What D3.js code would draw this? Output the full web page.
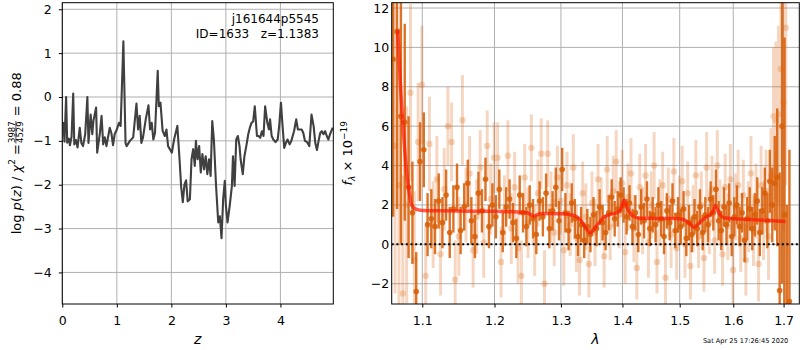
<!DOCTYPE html>
<html><head><meta charset="utf-8">
<script src="https://cdn.jsdelivr.net/npm/d3@7"></script>
<style>
body{margin:0;background:#fff;}
svg{font-family:"DejaVu Sans",sans-serif;}
</style></head><body>
<svg id="fig" width="800" height="350"></svg>
<script>
// ---- redshift probability: log p(z) on the fitting grid ----
const zGrid = [0.00,0.02,0.04,0.07,0.09,0.12,0.14,0.17,0.20,0.22,0.25,0.28,0.32,0.35,0.38,0.42,0.46,0.48,0.52,0.55,
  0.57,0.62,0.64,0.69,0.72,0.75,0.78,0.81,0.87,0.90,0.93,0.96,1.00,1.04,1.07,1.12,1.16,1.18,1.24,1.30,
  1.36,1.39,1.42,1.45,1.48,1.53,1.58,1.61,1.64,1.67,1.70,1.75,1.77,1.80,1.84,1.88,1.91,1.94,2.01,2.05,
  2.11,2.15,2.18,2.21,2.24,2.27,2.30,2.34,2.37,2.40,2.43,2.45,2.48,2.51,2.54,2.57,2.60,2.63,2.66,2.69,
  2.72,2.75,2.78,2.82,2.86,2.89,2.92,2.95,2.98,3.00,3.03,3.07,3.11,3.13,3.16,3.19,3.22,3.25,3.27,3.31,
  3.34,3.38,3.41,3.44,3.47,3.50,3.53,3.57,3.60,3.63,3.66,3.69,3.72,3.76,3.79,3.81,3.84,3.87,3.91,3.95,
  3.98,4.01,4.04,4.07,4.10,4.13,4.17,4.20,4.25,4.29,4.32,4.36,4.39,4.42,4.45,4.49,4.53,4.57,4.61,4.64,
  4.67,4.70,4.73,4.76,4.79,4.82,4.85,4.88,4.91,4.96];
const logPz = [-0.60,-0.59,-1.02,0.00,-1.04,-0.95,-1.10,-0.90,0.08,-1.08,-0.98,-1.15,-0.70,-1.05,-1.12,-0.85,0.00,-1.05,-0.40,-0.85,
  -0.55,-0.24,-1.27,-0.82,-0.43,-1.08,-0.92,-1.12,-0.70,-0.82,-1.10,-0.85,-0.74,-0.59,-0.66,1.27,-1.05,-1.12,-1.00,-0.92,
  -0.15,-0.74,-0.43,-1.05,-0.92,-0.51,-0.19,-0.74,-0.59,-0.97,-0.82,0.60,-0.21,-0.13,-0.77,-0.89,-0.74,-1.12,-1.27,-0.97,
  -0.66,-1.42,-2.05,-2.40,-2.00,-1.90,-2.38,-2.33,-1.42,-1.19,-1.57,-1.00,-1.42,-1.12,-1.72,-1.30,-1.65,-1.35,-1.76,-1.42,
  -1.80,-0.55,-0.97,-2.03,-2.86,-2.72,-3.22,-2.33,-1.91,-2.48,-2.86,-2.48,-2.03,-1.35,-2.03,-0.97,-0.89,-1.12,-1.42,-1.76,
  -1.35,-1.08,-0.85,-0.70,-0.59,-0.56,-0.21,-0.89,-0.89,-0.93,-0.78,-0.89,-0.21,-0.59,-0.74,-0.51,-0.89,-0.97,-1.03,-0.97,
  -0.63,-0.13,-0.67,-1.16,-1.05,-0.97,-1.08,-1.00,-0.78,-0.51,-0.74,-0.74,-0.74,-0.82,-1.00,-1.03,-1.12,-0.40,-0.67,-1.05,
  -1.21,-1.00,-0.82,-0.78,-0.85,-0.78,-0.89,-0.97,-0.85,-0.70];

const chi2Num = "3987", chi2Den = "4529", chi2Red = "0.88";
const objName = "j161644p5545";
const objLine = "ID=1633   z=1.1383";
const stamp = "Sat Apr 25 17:26:45 2020";

const zTicks = [0, 1, 2, 3, 4];
const pzTicks = [-4, -3, -2, -1, 0, 1, 2];
const lamTicks = [1.1, 1.2, 1.3, 1.4, 1.5, 1.6, 1.7];
const fluxTicks = [-2, 0, 2, 4, 6, 8, 10, 12];

// ---- grism spectrum, first beam (strong points) ----
const lamA = [1.062,1.067,1.072,1.077,1.082,1.087,1.092,1.097,1.102,1.107,1.112,1.117,1.122,1.127,1.132,1.137,1.142,1.147,1.152,1.157,
  1.162,1.167,1.172,1.177,1.182,1.187,1.192,1.197,1.202,1.207,1.212,1.217,1.222,1.227,1.232,1.237,1.242,1.247,1.252,1.257,
  1.262,1.267,1.272,1.277,1.282,1.287,1.292,1.297,1.302,1.307,1.312,1.317,1.322,1.327,1.332,1.337,1.342,1.347,1.352,1.357,
  1.362,1.367,1.372,1.377,1.382,1.387,1.392,1.397,1.402,1.407,1.412,1.417,1.422,1.427,1.432,1.437,1.442,1.447,1.452,1.457,
  1.462,1.467,1.472,1.477,1.482,1.487,1.492,1.497,1.502,1.507,1.512,1.517,1.522,1.527,1.532,1.537,1.542,1.547,1.552,1.557,
  1.562,1.567,1.572,1.577,1.582,1.587,1.592,1.597,1.602,1.607,1.612,1.617,1.622,1.627,1.632,1.637,1.642,1.647,1.652,1.657,
  1.662,1.667,1.672,1.677,1.682,1.687,1.692,1.697,1.702,1.707,1.712];
const fluxA = [9.4,10.8,6.5,6.2,2.9,1.6,-2.4,4.2,4.8,1.0,1.3,0.9,2.2,1.1,2.5,0.6,1.8,2.9,0.7,1.9,
  3.1,1.2,0.4,2.6,1.7,3.3,0.9,2.0,1.4,2.8,0.6,1.9,2.3,1.1,0.3,2.5,1.6,0.9,2.0,1.3,
  0.5,2.2,1.4,2.6,0.8,1.7,2.9,1.2,3.8,1.6,0.7,2.1,1.3,0.4,1.0,0.2,0.9,0.5,1.5,0.8,
  1.9,1.1,0.6,1.6,2.4,1.3,1.8,2.5,2.0,1.4,2.1,0.9,1.6,0.5,1.9,1.2,2.3,0.8,1.5,1.0,
  2.0,1.3,0.4,1.7,1.1,2.2,0.7,1.5,0.9,1.8,0.3,1.1,0.5,1.4,0.8,1.9,0.6,1.5,1.0,2.3,
  1.6,2.8,1.2,0.7,1.9,1.0,2.1,0.4,1.4,2.0,0.9,1.6,0.2,1.3,1.8,0.8,1.5,2.2,0.6,1.7,
  2.6,1.2,3.2,2.0,3.1,3.4,-2.35,6.0,1.5,-3.5,-2.9];
const errA = [8.0,9.0,6.5,5.0,3.6,2.6,2.0,2.0,1.9,1.6,1.5,1.4,1.4,1.3,1.3,1.3,1.2,1.2,1.2,1.2,
  1.2,1.2,1.1,1.1,1.1,1.1,1.1,1.1,1.1,1.0,1.0,1.0,1.0,1.0,1.0,1.0,1.0,1.0,1.0,1.0,
  1.0,1.0,1.0,1.0,1.0,1.0,1.0,1.0,1.1,1.0,1.0,1.0,1.0,1.0,0.9,0.9,0.9,0.9,0.9,0.9,
  0.9,0.9,0.9,0.9,0.9,0.9,0.9,0.9,0.9,0.9,0.9,0.9,0.9,0.9,0.9,0.9,0.9,0.9,0.9,0.9,
  0.9,0.9,0.9,0.9,0.9,0.9,0.9,0.9,0.9,0.9,0.9,0.9,0.9,0.9,0.9,0.9,0.9,0.9,0.9,0.9,
  0.9,1.0,1.0,1.0,1.0,1.0,1.0,1.0,1.0,1.0,1.0,1.0,1.1,1.1,1.1,1.1,1.1,1.2,1.2,1.2,
  1.3,1.4,1.6,1.9,2.4,3.5,6.0,8.0,9.0,5.5,7.7];

// ---- second beam (faint points) ----
const lamB = [1.0645,1.0695,1.0745,1.0795,1.0845,1.0895,1.0945,1.0995,1.1045,1.1095,1.1145,1.1195,1.1245,1.1295,1.1345,1.1395,1.1445,1.1495,1.1545,1.1595,
  1.1645,1.1695,1.1745,1.1795,1.1845,1.1895,1.1945,1.1995,1.2045,1.2095,1.2145,1.2195,1.2245,1.2295,1.2345,1.2395,1.2445,1.2495,1.2545,1.2595,
  1.2645,1.2695,1.2745,1.2795,1.2845,1.2895,1.2945,1.2995,1.3045,1.3095,1.3145,1.3195,1.3245,1.3295,1.3345,1.3395,1.3445,1.3495,1.3545,1.3595,
  1.3645,1.3695,1.3745,1.3795,1.3845,1.3895,1.3945,1.3995,1.4045,1.4095,1.4145,1.4195,1.4245,1.4295,1.4345,1.4395,1.4445,1.4495,1.4545,1.4595,
  1.4645,1.4695,1.4745,1.4795,1.4845,1.4895,1.4945,1.4995,1.5045,1.5095,1.5145,1.5195,1.5245,1.5295,1.5345,1.5395,1.5445,1.5495,1.5545,1.5595,
  1.5645,1.5695,1.5745,1.5795,1.5845,1.5895,1.5945,1.5995,1.6045,1.6095,1.6145,1.6195,1.6245,1.6295,1.6345,1.6395,1.6445,1.6495,1.6545,1.6595,
  1.6645,1.6695,1.6745,1.6795,1.6845,1.6895,1.6945,1.6995,1.7045];
const fluxB = [5.0,3.0,-2.5,2.0,7.7,-0.8,5.2,8.1,-1.6,5.1,1.0,3.3,-0.5,2.8,6.0,5.2,-1.8,0.4,6.3,2.0,
  3.6,-0.3,1.4,3.9,0.1,5.0,2.3,4.4,4.4,-0.9,1.7,4.5,0.8,2.9,-0.2,-1.6,3.4,1.1,4.9,0.2,
  2.6,4.6,-2.0,4.6,1.9,0.6,3.4,2.2,-0.3,3.0,1.0,3.9,0.3,-0.8,2.6,1.4,-1.0,2.1,0.6,3.3,
  1.7,-0.6,3.8,0.9,2.7,4.2,1.5,3.1,-0.4,2.4,3.6,0.8,-1.2,2.9,1.2,3.5,0.1,2.0,4.0,-0.9,
  1.6,3.0,-1.7,2.3,0.5,3.7,-0.2,1.8,3.2,0.0,2.6,-1.1,1.3,3.5,0.4,2.0,-0.7,3.9,1.1,2.8,
  0.2,4.0,1.6,-0.5,2.9,0.9,3.3,-1.3,1.9,3.0,0.3,2.5,-0.8,1.4,3.6,0.7,2.2,-1.0,3.0,1.2,
  2.7,0.4,3.5,6.5,6.3,6.6,8.9,7.2,11.0];
const errB = [7.5,8.0,6.0,5.0,4.5,3.5,3.0,3.0,2.5,2.4,2.2,2.2,2.1,2.1,2.0,2.0,2.0,2.0,2.3,1.9,
  1.9,1.9,1.9,1.9,1.8,1.8,1.8,1.8,1.8,1.8,1.8,1.8,1.8,1.8,1.8,1.8,1.7,1.8,1.7,1.8,
  1.7,1.8,1.7,1.7,1.8,1.7,1.6,1.7,1.8,1.7,1.6,1.7,1.7,1.8,1.6,1.7,1.7,1.6,1.7,1.8,
  1.7,1.6,1.7,1.7,1.8,1.6,1.7,1.7,1.6,1.7,1.8,1.7,1.6,1.7,1.7,1.6,1.8,1.7,1.7,1.6,
  1.7,1.7,1.8,1.6,1.7,1.7,1.6,1.7,1.8,1.7,1.6,1.7,1.7,1.8,1.6,1.7,1.7,1.8,1.6,1.7,
  1.7,1.8,1.7,1.6,1.7,1.7,1.8,1.7,1.7,1.8,1.7,1.8,1.8,1.8,1.9,1.8,1.9,1.9,2.0,2.0,
  2.1,2.2,2.4,3.5,4.0,4.5,5.0,6.5,8.0];

// ---- best-fit template at z_best ----
const modelLam = [1.068,1.071,1.0751,1.0794,1.083,1.086,1.090,1.095,1.101,1.12,1.15,1.18,1.21,1.235,1.248,1.253,1.2577,1.262,1.268,1.28,
  1.30,1.315,1.325,1.333,1.340,1.3467,1.352,1.360,1.370,1.380,1.390,1.397,1.403,1.408,1.414,1.420,1.43,1.45,1.48,1.50,
  1.51,1.518,1.5257,1.532,1.540,1.548,1.556,1.562,1.566,1.570,1.576,1.583,1.59,1.62,1.65,1.68,1.704];
const modelFlux = [10.9,8.4,5.85,3.65,2.6,2.0,1.82,1.75,1.72,1.70,1.69,1.68,1.67,1.64,1.60,1.52,1.43,1.48,1.55,1.56,
  1.55,1.50,1.40,1.15,0.80,0.58,0.75,1.05,1.40,1.52,1.60,1.75,2.25,1.85,1.55,1.40,1.33,1.32,1.31,1.30,
  1.22,1.05,0.87,0.98,1.20,1.38,1.50,1.70,1.97,1.75,1.45,1.35,1.33,1.28,1.24,1.20,1.16];

// ---------------------------------------------------------------
const svg = d3.select("#fig");
const ORANGE = "#d9600a";
const GRID = "#b0b0b0";
const FS = 12.5;

function frame(g, b){
  g.append("rect").attr("x", b.x0).attr("y", b.y0)
    .attr("width", b.x1 - b.x0).attr("height", b.y1 - b.y0)
    .attr("fill", "none").attr("stroke", "#000").attr("stroke-width", 1);
}
function grid(g, b, xs, xv, ys, yv){
  g.append("g").selectAll("line.gx").data(xv).join("line")
    .attr("x1", d => xs(d)).attr("x2", d => xs(d)).attr("y1", b.y0).attr("y2", b.y1)
    .attr("stroke", GRID).attr("stroke-width", 1);
  g.append("g").selectAll("line.gy").data(yv).join("line")
    .attr("y1", d => ys(d)).attr("y2", d => ys(d)).attr("x1", b.x0).attr("x2", b.x1)
    .attr("stroke", GRID).attr("stroke-width", 1);
}
function styleAxis(a){
  a.select(".domain").remove();
  a.selectAll("text").attr("font-size", FS).attr("fill", "#000").attr("font-family", "DejaVu Sans");
  a.selectAll("line").attr("stroke", "#000");
}

// ================= left panel: p(z) =================
const L = {x0: 62.3, x1: 333.3, y0: 2.7, y1: 304};
const xz = d3.scaleLinear().domain([0, 4.97]).range([L.x0, L.x1]);
const yp = d3.scaleLinear().domain([-4.72, 2.15]).range([L.y1, L.y0]);
const gL = svg.append("g");
grid(gL, L, xz, zTicks, yp, pzTicks);

svg.append("clipPath").attr("id", "clipL").append("rect")
  .attr("x", L.x0).attr("y", L.y0).attr("width", L.x1 - L.x0).attr("height", L.y1 - L.y0);
gL.append("path")
  .datum(zGrid.map((z, i) => [z, logPz[i]]))
  .attr("clip-path", "url(#clipL)")
  .attr("d", d3.line().x(d => xz(d[0])).y(d => yp(d[1])))
  .attr("fill", "none").attr("stroke", "#404040").attr("stroke-width", 2.1)
  .attr("stroke-linejoin", "round");

styleAxis(gL.append("g").attr("transform", `translate(0,${L.y1})`)
  .call(d3.axisBottom(xz).tickValues(zTicks).tickFormat(d3.format("d")).tickSize(3.5).tickPadding(8.3)));
styleAxis(gL.append("g").attr("transform", `translate(${L.x0},0)`)
  .call(d3.axisLeft(yp).tickValues(pzTicks).tickFormat(d3.format("d")).tickSize(3.5).tickPadding(7)));
frame(gL, L);

gL.append("text").attr("x", 319).attr("y", 23).attr("text-anchor", "end")
  .attr("font-size", 12).text(objName);
gL.append("text").attr("x", 319).attr("y", 37.7).attr("text-anchor", "end")
  .attr("font-size", 12).style("white-space", "pre").text(objLine);

gL.append("text").attr("x", xz(2.485)).attr("y", 343.5).attr("text-anchor", "middle")
  .attr("font-size", 14).attr("font-style", "italic").text("z");

// y label: log p(z) / chi^2 = num/den = value
{
  const outer = gL.append("g").attr("transform", "translate(20.5,153.3) rotate(-90)");
  const inner = outer.append("g");
  const t1 = inner.append("text").attr("font-size", 13).attr("x", 0).attr("y", 0);
  t1.append("tspan").text("log ");
  t1.append("tspan").attr("font-style", "italic").text("p");
  t1.append("tspan").text("(");
  t1.append("tspan").attr("font-style", "italic").text("z");
  t1.append("tspan").text(") / ");
  t1.append("tspan").attr("font-style", "italic").text("χ");
  t1.append("tspan").attr("font-size", 9).attr("dy", -5.5).text("2");
  t1.append("tspan").attr("dy", 5.5).text(" = ");
  const w1 = t1.node().getComputedTextLength();
  const nT = inner.append("text").attr("font-size", 8.5).attr("text-anchor", "middle").attr("y", -6).text(chi2Num);
  const dT = inner.append("text").attr("font-size", 8.5).attr("text-anchor", "middle").attr("y", 2.2).text(chi2Den);
  const wf = Math.max(nT.node().getComputedTextLength(), dT.node().getComputedTextLength()) + 2;
  nT.attr("x", w1 + wf / 2); dT.attr("x", w1 + wf / 2);
  inner.append("line").attr("x1", w1 + 0.5).attr("x2", w1 + wf - 0.5).attr("y1", -4.6).attr("y2", -4.6)
    .attr("stroke", "#000").attr("stroke-width", 0.7);
  const t2 = inner.append("text").attr("font-size", 13).attr("x", w1 + wf).attr("y", 0)
    .style("white-space", "pre").text(" = " + chi2Red);
  const total = w1 + wf + t2.node().getComputedTextLength();
  inner.attr("transform", `translate(${-total / 2},0)`);
}

// ================= right panel: spectrum =================
const R = {x0: 391.7, x1: 799.3, y0: 2.7, y1: 304};
const xl = d3.scaleLog().domain([1.0602, 1.7325]).range([R.x0, R.x1]);
const yf = d3.scaleLinear().domain([-3.03, 12.27]).range([R.y1, R.y0]);
const gR = svg.append("g");
grid(gR, R, xl, lamTicks, yf, fluxTicks);

svg.append("clipPath").attr("id", "clipR").append("rect")
  .attr("x", R.x0).attr("y", R.y0).attr("width", R.x1 - R.x0).attr("height", R.y1 - R.y0);
const data = gR.append("g").attr("clip-path", "url(#clipR)");

function errSeries(g, lam, flux, err, opts){
  const pts = lam.map((l, i) => ({l, f: flux[i], e: err[i]}));
  const s = g.append("g").attr("opacity", opts.opacity);
  s.selectAll("line").data(pts).join("line")
    .attr("x1", d => xl(d.l)).attr("x2", d => xl(d.l))
    .attr("y1", d => yf(d.f - d.e)).attr("y2", d => yf(d.f + d.e))
    .attr("stroke", ORANGE).attr("stroke-width", opts.bw);
  const c = g.append("g").attr("opacity", opts.opacity);
  c.selectAll("circle").data(pts).join("circle")
    .attr("cx", d => xl(d.l)).attr("cy", d => yf(d.f)).attr("r", opts.r)
    .attr("fill", ORANGE);
}
errSeries(data, lamB, fluxB, errB, {opacity: 0.25, bw: 3, r: 3.2});
errSeries(data, lamA, fluxA, errA, {opacity: 0.88, bw: 2.4, r: 2.8});

data.append("path")
  .datum(modelLam.map((l, i) => [l, modelFlux[i]]))
  .attr("d", d3.line().curve(d3.curveMonotoneX).x(d => xl(d[0])).y(d => yf(d[1])))
  .attr("fill", "none").attr("stroke", "#ff1500").attr("stroke-width", 3.5)
  .attr("stroke-opacity", 0.7).attr("stroke-linejoin", "round");

data.append("line").attr("x1", R.x0).attr("x2", R.x1).attr("y1", yf(0)).attr("y2", yf(0))
  .attr("stroke", "#000").attr("stroke-width", 2).attr("stroke-dasharray", "2,2.7");

styleAxis(gR.append("g").attr("transform", `translate(0,${R.y1})`)
  .call(d3.axisBottom(xl).tickValues(lamTicks).tickFormat(d3.format(".1f")).tickSize(3.5).tickPadding(8.3)));
styleAxis(gR.append("g").attr("transform", `translate(${R.x0},0)`)
  .call(d3.axisLeft(yf).tickValues(fluxTicks).tickFormat(d3.format("d")).tickSize(0).tickPadding(2.6)));
frame(gR, R);

gR.append("text").attr("x", 595.5).attr("y", 344).attr("text-anchor", "middle")
  .attr("font-size", 14).attr("font-style", "italic").text("λ");

{
  const t = gR.append("text").attr("font-size", 13).attr("text-anchor", "middle")
    .attr("transform", "translate(352,153.3) rotate(-90)");
  t.append("tspan").attr("font-style", "italic").text("f");
  t.append("tspan").attr("font-size", 9).attr("font-style", "italic").attr("dy", 2.5).text("λ");
  t.append("tspan").attr("dy", -2.5).style("white-space", "pre").text(" × 10");
  t.append("tspan").attr("font-size", 9).attr("dy", -5.5).text("−19");
}

svg.append("text").attr("x", 788.3).attr("y", 342.5).attr("text-anchor", "end")
  .attr("font-size", 6.6).text(stamp);
</script>
</body></html>
